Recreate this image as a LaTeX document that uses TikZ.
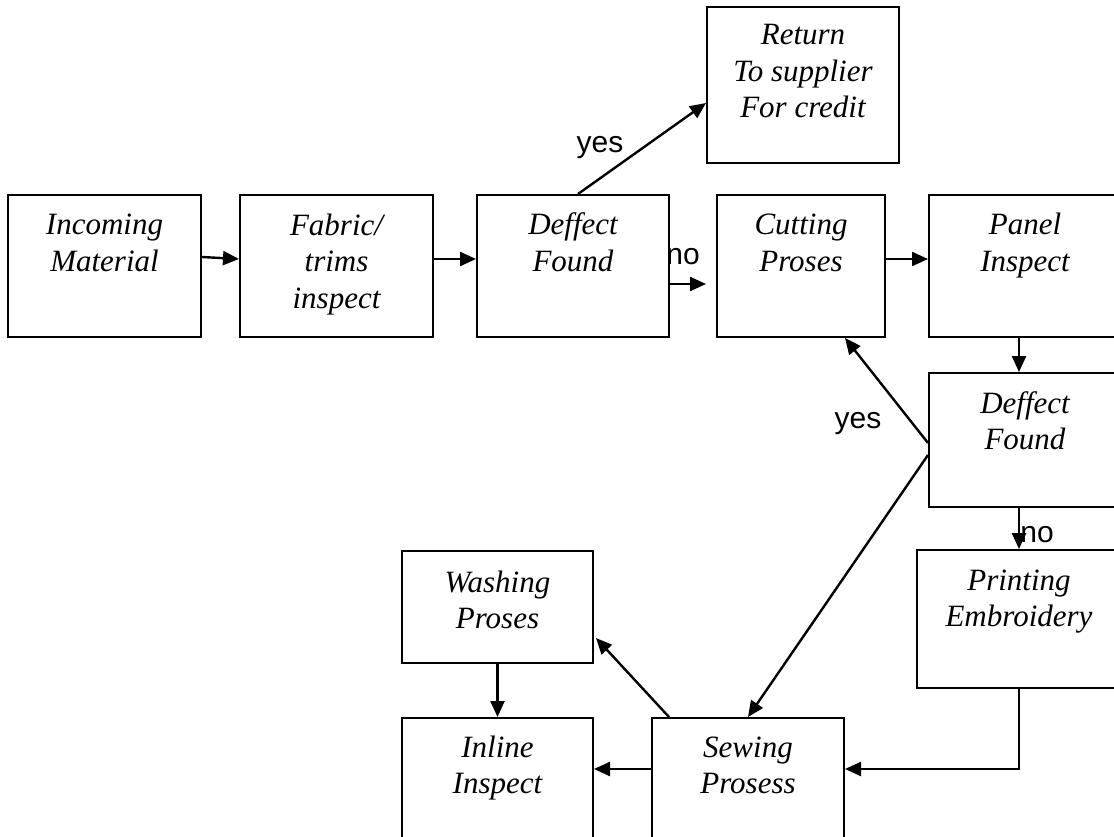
\documentclass[tikz,border=0pt]{standalone}
\usepackage{fontspec}
\setmainfont{Liberation Serif}
\newfontfamily\labfont{Liberation Sans}
\usetikzlibrary{arrows.meta,calc}

\tikzset{
  stepbox/.style={draw=black, line width=2pt, rectangle, inner sep=0pt},
  % anchored on the baseline of the last caption line
  boxtext/.style={font=\itshape\fontsize{31}{36.5}\selectfont, align=center, inner sep=0pt, anchor=base},
  flow/.style={line width=2.4pt, -{Triangle[length=16pt,width=14pt]}},
  answer/.style={font=\labfont\fontsize{30}{34}\selectfont, inner sep=0pt, anchor=base}
}

\begin{document}
\begin{tikzpicture}[x=1pt, y=-1pt]
\useasboundingbox (0,0) rectangle (1114,837);
\clip (0,0) rectangle (1114,837);

% process boxes
\node[stepbox, minimum width=193pt, minimum height=142pt] (inc) at (104.5,266) {};
\node[stepbox, minimum width=193pt, minimum height=142pt] (fab) at (336.5,266) {};
\node[stepbox, minimum width=192pt, minimum height=142pt] (def1) at (573,266) {};
\node[stepbox, minimum width=192pt, minimum height=156pt] (ret) at (803,85) {};
\node[stepbox, minimum width=168pt, minimum height=142pt] (cut) at (801,266) {};
\node[stepbox, minimum width=192pt, minimum height=142pt] (pan) at (1025,266) {};
\node[stepbox, minimum width=192pt, minimum height=134pt] (def2) at (1025,440) {};
\node[stepbox, minimum width=204pt, minimum height=138pt] (pri) at (1019,619) {};
\node[stepbox, minimum width=191pt, minimum height=112pt] (wash) at (497.5,607) {};
\node[stepbox, minimum width=191pt, minimum height=142pt] (inl) at (497.5,789) {};
\node[stepbox, minimum width=192pt, minimum height=142pt] (sew) at (748,789) {};

% box captions
\node[boxtext] (tinc) at (104.5,271.5) {Incoming\\Material};
\node[boxtext] (tfab) at (336.5,308) {Fabric/\\trims\\inspect};
\node[boxtext] (tdef1) at (573,271.5) {Deffect\\Found};
\node[boxtext] (tret) at (803,118) {Return\\To supplier\\For credit};
\node[boxtext] (tcut) at (801,271.5) {Cutting\\Proses};
\node[boxtext] (tpan) at (1025,271.5) {Panel\\Inspect};
\node[boxtext] (tdef2) at (1025,449.5) {Deffect\\Found};
\node[boxtext] (tpri) at (1019,626.5) {Printing\\Embroidery};
\node[boxtext] (twash) at (497.5,628.5) {Washing\\Proses};
\node[boxtext] (tinl) at (497.5,793.5) {Inline\\Inspect};
\node[boxtext] (tsew) at (748,793.5) {Sewing\\Prosess};

% loose end of the "no" arrow, short of the cutting box
\coordinate (noend) at ([xshift=-10pt,yshift=-18pt]cut.west);

% connectors
\draw[flow] ([yshift=9pt]inc.east) -- ([yshift=7pt]fab.west);
\draw[flow] ([yshift=7pt]fab.east) -- ([yshift=7pt]def1.west);
\draw[flow] ([xshift=5pt]def1.north) -- ([yshift=-18pt]ret.west);
\draw[flow] ([yshift=-18pt]def1.east) -- (noend);
\draw[flow] ([yshift=7pt]cut.east) -- ([yshift=7pt]pan.west);
\draw[flow] ([xshift=-6pt]pan.south) -- ([xshift=-6pt]def2.north);
\draw[flow] ([yshift=-3pt]def2.west) -- ([xshift=44pt]cut.south);
\draw[flow] ([yshift=-15pt]def2.west) -- (sew.north);
\draw[flow] ([xshift=-6pt]def2.south) -- (pri.north);
\draw[flow] (pri.south) |- ([yshift=20pt]sew.east);
\draw[flow] ([yshift=20pt]sew.west) -- ([yshift=20pt]inl.east);
\draw[flow] ([xshift=-79pt]sew.north) -- ([xshift=2pt,yshift=-31pt]wash.east);
\draw[flow] (wash.south) -- (inl.north);

% decision answers
\node[answer] (yes1) at (600,153) {yes};
\node[answer] (no1) at (683,265) {no};
\node[answer] (yes2) at (858,428) {yes};
\node[answer] (no2) at (1037,542) {no};
\end{tikzpicture}
\end{document}
